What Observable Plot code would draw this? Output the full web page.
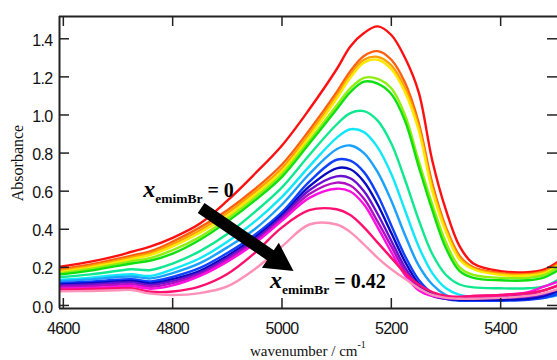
<!DOCTYPE html>
<html>
<head>
<meta charset="utf-8">
<script src="https://cdn.jsdelivr.net/npm/d3@7"></script>
<script src="https://cdn.jsdelivr.net/npm/@observablehq/plot@0.6"></script>
<style>
html, body { margin: 0; padding: 0; background: #fff; overflow: hidden; }
#chart svg { display: block; }
</style>
</head>
<body>
<div id="chart"></div>
<script>
// ---- data ----
const wavenumber = [4595, 4650, 4700, 4725, 4760, 4800, 4850, 4900, 4950, 5000, 5050, 5100, 5125, 5150, 5175, 5200, 5225, 5250, 5275, 5300, 5325, 5350, 5400, 5450, 5480, 5505];

const xTicks = [4600, 4800, 5000, 5200, 5400];
const yTicks = [0, 0.2, 0.4, 0.6, 0.8, 1.0, 1.2, 1.4];

const seriesNames = ["s01", "s02", "s03", "s04", "s05", "s06", "s07", "s08", "s09", "s10", "s11", "s12", "s13", "s14", "s15", "s16"];
const seriesColors = ["#ff1010", "#ff6010", "#ffa000", "#ffe800", "#90ee10", "#10e010", "#10e890", "#10e8f8", "#1aa0ff", "#1040ff", "#0808c0", "#6a10d0", "#b010c0", "#ff10e0", "#ff1070", "#ff90b8"];

const absRed         = [0.203, 0.23, 0.262, 0.282, 0.31, 0.355, 0.43, 0.55, 0.69, 0.84, 1.03, 1.24, 1.36, 1.43, 1.465, 1.42, 1.30, 1.12, 0.76, 0.50, 0.31, 0.22, 0.18, 0.175, 0.19, 0.23];
const absOrangeRed   = [0.19, 0.215, 0.245, 0.262, 0.285, 0.335, 0.41, 0.50, 0.61, 0.74, 0.92, 1.12, 1.23, 1.31, 1.335, 1.29, 1.17, 0.96, 0.64, 0.41, 0.26, 0.20, 0.17, 0.166, 0.18, 0.22];
const absOrange      = [0.183, 0.207, 0.236, 0.252, 0.275, 0.322, 0.395, 0.485, 0.595, 0.72, 0.90, 1.10, 1.21, 1.29, 1.305, 1.26, 1.14, 0.94, 0.62, 0.40, 0.25, 0.195, 0.165, 0.162, 0.176, 0.215];
const absYellow      = [0.176, 0.2, 0.228, 0.244, 0.266, 0.31, 0.382, 0.47, 0.58, 0.705, 0.885, 1.085, 1.195, 1.275, 1.29, 1.24, 1.12, 0.92, 0.60, 0.385, 0.24, 0.19, 0.16, 0.157, 0.17, 0.21];
const absChartreuse  = [0.17, 0.192, 0.218, 0.232, 0.25, 0.29, 0.36, 0.455, 0.565, 0.69, 0.865, 1.05, 1.14, 1.195, 1.19, 1.14, 1.0, 0.76, 0.53, 0.33, 0.2, 0.16, 0.145, 0.145, 0.16, 0.2];
const absGreen       = [0.163, 0.183, 0.208, 0.22, 0.236, 0.272, 0.345, 0.44, 0.55, 0.675, 0.85, 1.03, 1.12, 1.175, 1.165, 1.11, 0.97, 0.73, 0.50, 0.30, 0.18, 0.145, 0.132, 0.132, 0.148, 0.185];
const absSpringGreen = [0.149, 0.163, 0.182, 0.19, 0.186, 0.22, 0.285, 0.375, 0.49, 0.62, 0.79, 0.95, 1.01, 1.02, 0.97, 0.85, 0.66, 0.45, 0.27, 0.16, 0.11, 0.095, 0.09, 0.09, 0.1, 0.135];
const absCyan        = [0.135, 0.146, 0.16, 0.164, 0.155, 0.19, 0.248, 0.335, 0.44, 0.57, 0.73, 0.88, 0.925, 0.91, 0.83, 0.69, 0.50, 0.31, 0.17, 0.09, 0.055, 0.045, 0.042, 0.045, 0.05, 0.065];
const absDodgerBlue  = [0.128, 0.137, 0.149, 0.152, 0.142, 0.17, 0.222, 0.305, 0.40, 0.53, 0.69, 0.82, 0.84, 0.80, 0.70, 0.55, 0.37, 0.21, 0.11, 0.055, 0.035, 0.03, 0.03, 0.033, 0.04, 0.055];
const absBlue        = [0.117, 0.125, 0.135, 0.138, 0.126, 0.15, 0.197, 0.275, 0.37, 0.49, 0.65, 0.765, 0.76, 0.70, 0.58, 0.42, 0.26, 0.135, 0.065, 0.035, 0.025, 0.025, 0.025, 0.03, 0.04, 0.06];
const absDarkBlue    = [0.11, 0.117, 0.126, 0.129, 0.116, 0.138, 0.182, 0.26, 0.355, 0.475, 0.625, 0.72, 0.715, 0.65, 0.53, 0.38, 0.23, 0.115, 0.055, 0.035, 0.03, 0.03, 0.03, 0.035, 0.05, 0.075];
const absViolet      = [0.105, 0.11, 0.119, 0.121, 0.108, 0.128, 0.172, 0.25, 0.345, 0.465, 0.605, 0.678, 0.668, 0.60, 0.48, 0.34, 0.2, 0.1, 0.05, 0.035, 0.035, 0.035, 0.04, 0.045, 0.06, 0.085];
const absPurple      = [0.097, 0.101, 0.109, 0.112, 0.098, 0.117, 0.163, 0.24, 0.335, 0.455, 0.585, 0.645, 0.63, 0.56, 0.44, 0.31, 0.18, 0.09, 0.05, 0.04, 0.04, 0.04, 0.045, 0.055, 0.08, 0.105];
const absMagenta     = [0.088, 0.092, 0.099, 0.102, 0.088, 0.105, 0.155, 0.23, 0.325, 0.445, 0.565, 0.613, 0.598, 0.53, 0.41, 0.28, 0.16, 0.08, 0.05, 0.045, 0.045, 0.05, 0.055, 0.07, 0.1, 0.125];
const absCrimson     = [0.083, 0.086, 0.09, 0.09, 0.072, 0.073, 0.10, 0.165, 0.275, 0.41, 0.50, 0.505, 0.475, 0.41, 0.33, 0.25, 0.17, 0.11, 0.07, 0.05, 0.045, 0.05, 0.055, 0.065, 0.08, 0.105];
const absPink        = [0.074, 0.076, 0.08, 0.081, 0.062, 0.055, 0.065, 0.10, 0.19, 0.31, 0.425, 0.425, 0.385, 0.32, 0.25, 0.19, 0.14, 0.09, 0.055, 0.04, 0.035, 0.035, 0.04, 0.05, 0.065, 0.085];

// annotations (data coordinates)
const labelStart = {wn: 4747, a: 0.567, text: "0"};
const labelEnd   = {wn: 4979, a: 0.089, text: "0.42"};
const arrowFrom  = [4853, 0.509];
const arrowTo    = [5022, 0.178];

// ---- build ----
const series = [absRed, absOrangeRed, absOrange, absYellow, absChartreuse, absGreen, absSpringGreen, absCyan, absDodgerBlue, absBlue, absDarkBlue, absViolet, absPurple, absMagenta, absCrimson, absPink];
const data = series.flatMap((vals, i) => vals.map((v, j) => ({wn: wavenumber[j], a: v, s: seriesNames[i]})));

const xDomain = [4593, 5504];
const yDomain = [-0.016, 1.517];

const W = 557, H = 360, mL = 59, mR = 0, mT = 16, mB = 52;
const tickLen = 10;
const innerW = W - mL - mR, innerH = H - mT - mB;
const axisColor = "#222";

const plot = Plot.plot({
  width: W, height: H,
  marginLeft: mL, marginRight: mR, marginTop: mT, marginBottom: mB,
  style: {background: "#fff", color: "#111", fontFamily: "'Liberation Sans', Arial, sans-serif", fontSize: "16px"},
  x: {domain: xDomain, label: null},
  y: {domain: yDomain, label: null},
  color: {type: "ordinal", domain: seriesNames, range: seriesColors},
  marks: [
    Plot.line(data, {x: "wn", y: "a", z: "s", stroke: "s", strokeWidth: 2.4, curve: "catmull-rom", clip: true}),
    Plot.ruleX(xTicks, {x: d => d, insetTop: innerH - tickLen, stroke: axisColor, strokeWidth: 1.5}),
    Plot.ruleX(xTicks, {x: d => d, insetBottom: innerH - tickLen, stroke: axisColor, strokeWidth: 1.5}),
    Plot.ruleY(yTicks, {y: d => d, insetRight: innerW - tickLen, stroke: axisColor, strokeWidth: 1.5}),
    Plot.ruleY(yTicks, {y: d => d, insetLeft: innerW - tickLen, stroke: axisColor, strokeWidth: 1.5}),
    Plot.ruleY([yDomain[0]], {y: d => d, stroke: axisColor, strokeWidth: 2}),
    Plot.ruleY([yDomain[1]], {y: d => d, stroke: axisColor, strokeWidth: 2}),
    Plot.ruleX([xDomain[0]], {x: d => d, stroke: axisColor, strokeWidth: 2}),
    Plot.axisX(xTicks, {anchor: "bottom", tickSize: 0, tickPadding: 14, label: null, tickFormat: d => String(d), fontSize: 16, fill: "#111"}),
    Plot.axisY(yTicks, {anchor: "left", tickSize: 0, tickPadding: 7, label: null, tickFormat: d3.format(".1f"), fontSize: 16, dy: 2, fill: "#111"})
  ]
});

const svg = d3.select(plot);
svg.selectAll('g[aria-label="x-axis tick label"], g[aria-label="y-axis tick label"]').attr("letter-spacing", "-0.7px");

const sx = plot.scale("x"), sy = plot.scale("y");
const serif = "'Liberation Serif', 'Times New Roman', Times, serif";

// arrow
{
  const x0 = sx.apply(arrowFrom[0]), y0 = sy.apply(arrowFrom[1]);
  const x1 = sx.apply(arrowTo[0]), y1 = sy.apply(arrowTo[1]);
  const dx = x1 - x0, dy = y1 - y0, len = Math.hypot(dx, dy);
  const ux = dx / len, uy = dy / len, px = -uy, py = ux;
  const sw = 6, hw = 15, hl = 28;
  const bx = x1 - ux * hl, by = y1 - uy * hl;
  const pts = [[x0 + px * sw, y0 + py * sw], [bx + px * sw, by + py * sw], [bx + px * hw, by + py * hw], [x1, y1],
               [bx - px * hw, by - py * hw], [bx - px * sw, by - py * sw], [x0 - px * sw, y0 - py * sw]];
  svg.append("path").attr("d", "M" + pts.map(p => p.join(",")).join("L") + "Z").attr("fill", "#000");
}

function annot(l) {
  const t = svg.append("text")
    .attr("x", sx.apply(l.wn)).attr("y", sy.apply(l.a)).attr("text-anchor", "start")
    .attr("font-family", serif).attr("font-weight", "bold").attr("fill", "#000");
  t.append("tspan").attr("font-style", "italic").attr("font-size", 24).text("x");
  t.append("tspan").attr("font-size", 13.5).attr("dy", 6).text("emimBr");
  t.append("tspan").attr("font-size", 20).attr("dy", -6).text(" = " + l.text);
}
annot(labelStart);
annot(labelEnd);

// axis titles
svg.append("text")
  .attr("transform", `translate(23,${mT + innerH / 2 + 1}) rotate(-90)`)
  .attr("text-anchor", "middle").attr("font-family", serif).attr("font-size", 16).attr("fill", "#111")
  .text("Absorbance");
{
  const t = svg.append("text").attr("x", 250).attr("y", 356).attr("text-anchor", "start")
    .attr("font-family", serif).attr("font-size", 15).attr("fill", "#111");
  t.append("tspan").text("wavenumber / cm");
  t.append("tspan").attr("font-size", 10).attr("dy", -8).text("-1");
}

document.getElementById("chart").appendChild(plot);
</script>
</body>
</html>
